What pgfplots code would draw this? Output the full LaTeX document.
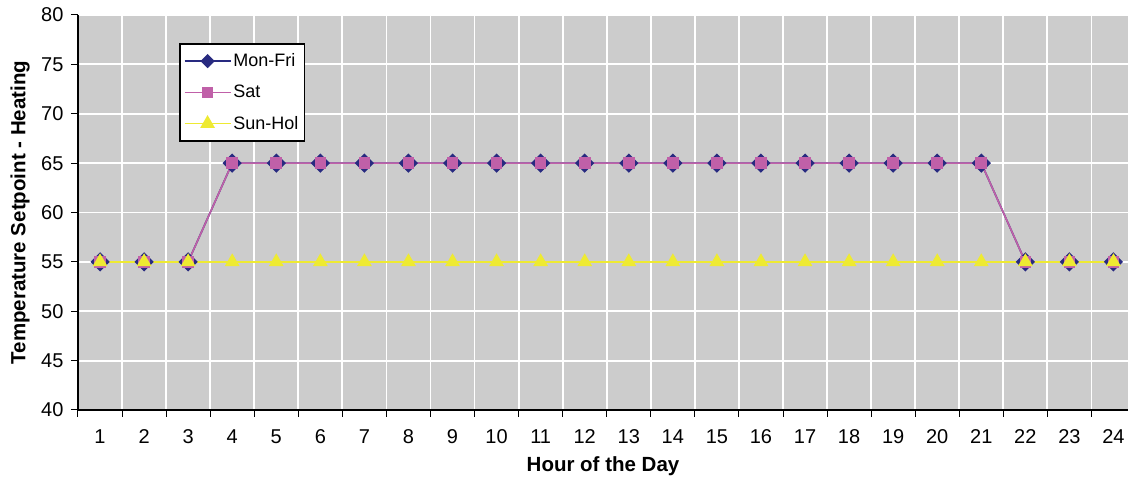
\documentclass[border=0pt]{standalone}
\usepackage{pgfplots}
\pgfplotsset{compat=1.18}
\usepackage{fontspec}
\setmainfont{Liberation Sans}
\definecolor{bgc}{RGB}{204,204,204}
\definecolor{navy}{RGB}{40,42,128}
\definecolor{mag}{RGB}{192,96,168}
\definecolor{yel}{RGB}{238,234,50}
\begin{document}
\begin{tikzpicture}
\begin{axis}[
 scale only axis, width=1050pt, height=395pt,
 xmin=0.5, xmax=24.33, ymin=40, ymax=80,
 axis x line*=bottom, axis y line*=left,
 axis line style={black, line width=1.5pt, -},
 axis background/.style={fill=bgc},
 xtick={0.5,1.5,...,23.5},
 xticklabels={},
 extra x ticks={1,...,24},
 extra x tick labels={1,2,3,4,5,6,7,8,9,10,11,12,13,14,15,16,17,18,19,20,21,22,23,24},
 extra x tick style={grid=none, major tick length=0pt},
 ytick={40,45,...,80},
 grid=major,
 grid style={white, line width=1.8pt},
 tick align=outside,
 major tick length=7pt,
 tick style={black, line width=1pt},
 /pgf/number format/assume math mode=true,
 ticklabel style={font=\fontsize{20}{22}\selectfont},
 xticklabel style={yshift=-16pt},
 yticklabel style={xshift=-4pt},
 every axis x label/.style={at={(axis description cs:0.5,0)}, anchor=center, yshift=-56pt, font=\fontsize{20.5}{22}\selectfont\bfseries},
 every axis y label/.style={at={(axis description cs:0,0.5)}, anchor=center, xshift=-58pt, rotate=90, font=\fontsize{20.5}{22}\selectfont\bfseries},
 xlabel={Hour of the Day},
 ylabel={Temperature Setpoint - Heating},
 legend style={at={(0.0962,0.929)}, anchor=north west, draw=black, line width=1.5pt, fill=white, font=\fontsize{18}{20}\selectfont, row sep=13pt, inner xsep=4pt, inner ysep=8pt},
 legend cell align=left,
 legend image code/.code={\draw[mark repeat=2,mark phase=2] plot coordinates {(0pt,0pt) (23pt,0pt) (46pt,0pt)};},
]
\addplot[navy, line width=1.6pt, mark=diamond*, mark size=8.5pt, mark options={xscale=1.33, fill=navy}, legend image post style={mark size=6pt}] coordinates {
(1,55) (2,55) (3,55) (4,65) (5,65) (6,65) (7,65) (8,65) (9,65) (10,65) (11,65) (12,65) (13,65) (14,65) (15,65) (16,65) (17,65) (18,65) (19,65) (20,65) (21,65) (22,55) (23,55) (24,55)};
\addlegendentry{Mon-Fri}
\addplot[mag, line width=1.6pt, mark=square*, mark size=5pt, mark options={fill=mag}] coordinates {
(1,55) (2,55) (3,55) (4,65) (5,65) (6,65) (7,65) (8,65) (9,65) (10,65) (11,65) (12,65) (13,65) (14,65) (15,65) (16,65) (17,65) (18,65) (19,65) (20,65) (21,65) (22,55) (23,55) (24,55)};
\addlegendentry{Sat}
\addplot[yel, line width=1.6pt, mark=triangle*, mark size=7pt, mark options={fill=yel}] coordinates {
(1,55) (2,55) (3,55) (4,55) (5,55) (6,55) (7,55) (8,55) (9,55) (10,55) (11,55) (12,55) (13,55) (14,55) (15,55) (16,55) (17,55) (18,55) (19,55) (20,55) (21,55) (22,55) (23,55) (24,55)};
\addlegendentry{Sun-Hol}
\end{axis}
\pgfresetboundingbox
\useasboundingbox (-78pt,-68pt) rectangle (1050pt,410pt);
\end{tikzpicture}
\end{document}
